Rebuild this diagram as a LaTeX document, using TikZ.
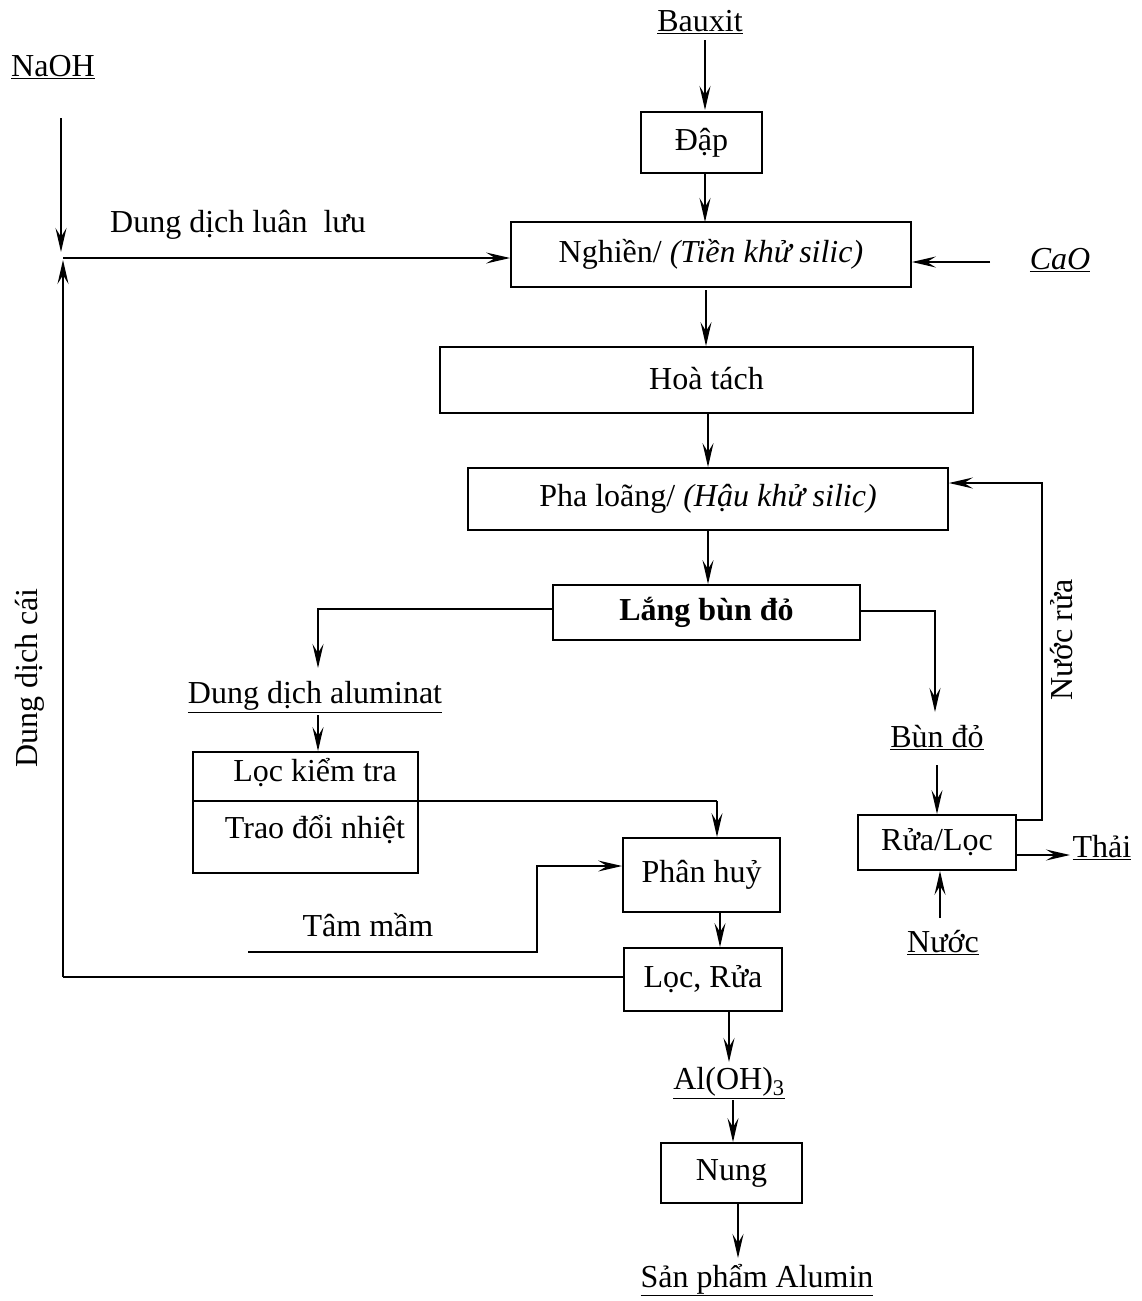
\documentclass[tikz,border=0pt]{standalone}
\usepackage{fontspec}
\setmainfont{Liberation Serif}
\usetikzlibrary{arrows.meta}
\begin{document}
\begin{tikzpicture}[x=1pt,y=-1pt,
  every node/.style={font=\fontsize{32}{38}\selectfont, inner sep=0pt},
  box/.style={draw, line width=1.8pt, minimum width=#1},
  ln/.style={line width=1.6pt},
  arr/.style={line width=1.6pt, -{Stealth[length=24pt,width=11pt,inset=9pt]}}]
\useasboundingbox (0,0) rectangle (1141,1301);
% boxes
\node[box=121pt, minimum height=61pt] (dap) at (701.5,142.5) {\raisebox{4pt}{Đập}};
\node[box=400pt, minimum height=65pt] (ngh) at (711,254.5) {Nghiền/ \textit{(Tiền khử silic)}};
\node[box=533pt, minimum height=66pt] (hoa) at (706.5,380) {\raisebox{3pt}{Hoà tách}};
\node[box=480pt, minimum height=62pt] (pha) at (708,499) {Pha loãng/ \textit{(Hậu khử silic)}};
\node[box=307pt, minimum height=55pt] (lang) at (706.5,612.5) {\textbf{Lắng bùn đỏ}};
\node[box=225pt, minimum height=121pt] (lockt) at (305.5,812.5) {};
\node (lockttxt) at (315,773) {Lọc kiểm tra};
\node (trao) at (315,830) {Trao đổi nhiệt};
\node[box=157pt, minimum height=74pt] (phan) at (701.5,875) {Phân huỷ};
\node[box=158pt, minimum height=63pt] (locrua) at (703,979.5) {Lọc, Rửa};
\node[box=141pt, minimum height=60pt] (nung) at (731.5,1173) {Nung};
\node[box=158pt, minimum height=55pt] (rualoc) at (937,842.5) {Rửa/Lọc};
% labels
\node (baux) at (700,22) {\underline{Bauxit}};
\node (naoh) at (53,67) {\underline{NaOH}};
\node (cao) at (1060,260) {\underline{\textit{CaO}}};
\node (luan) at (238,225) {Dung dịch luân\ \ lưu};
\node (alu) at (315,697) {\underline{Dung dịch aluminat}};
\node (bundo) at (937,738) {\underline{Bùn đỏ}};
\node (thai) at (1102,848) {\underline{Thải}};
\node (nuoc) at (943,943) {\underline{Nước}};
\node (aloh) at (729,1083) {\underline{Al(OH)\textsubscript{3}}};
\node (sp) at (757,1280) {\underline{Sản phẩm Alumin}};
\node (tam) at (368,925) {Tâm mầm};
\node[rotate=90] (cai) at (30,678) {Dung dịch cái};
\node[rotate=90] (nuocrua) at (1062,640) {Nước rửa};
% coordinates
\coordinate (naohtop) at (61,118);
\coordinate (junc) at (63,258);
\coordinate (corner) at (63,977);
\coordinate (tamstart) at (248,952);
\coordinate (tamstep) at (537,952);
\coordinate (lstep) at (318,609);
\coordinate (rstep) at (935,611);
\coordinate (nrstep) at (1042,820);
\coordinate (nrtop) at (1042,483);
\coordinate (tdstart) at (193,801);
\coordinate (tdstep) at (717,801);
% arrows
\draw[arr] (705,40) -- (705,110);
\draw[arr] (dap.south -| 705,0) -- (705,222);
\draw[arr] (706,290) -- (hoa.north -| 706,0);
\draw[arr] (708,413) -- (pha.north -| 708,0);
\draw[arr] (pha.south -| 708,0) -- (lang.north -| 708,0);
\draw[arr] (lang.west |- lstep) -- (lstep) -- (318,668);
\draw[arr] (lang.east |- rstep) -- (rstep) -- (935,712);
\draw[arr] (937,765) -- (rualoc.north -| 937,0);
\draw[arr] (rualoc.east |- 0,855) -- (1070,855);
\draw[arr] (940,918) -- (rualoc.south -| 940,0);
\draw[arr] (rualoc.east |- nrstep) -- (nrstep) -- (nrtop) -- (pha.east |- nrtop);
\draw[arr] (318,715) -- (lockt.north -| 318,0);
\draw[ln] (tdstart) -- (tdstep);
\draw[arr] (tdstep) -- (phan.north -| tdstep);
\draw[arr] (tamstart) -- (tamstep) -- (537,866) -- (phan.west |- 0,866);
\draw[arr] (phan.south -| 720,0) -- (locrua.north -| 720,0);
\draw[ln] (locrua.west |- corner) -- (corner);
\draw[arr] (corner) -- (63,260);
\draw[arr] (junc) -- (ngh.west |- junc);
\draw[arr] (naohtop) -- (61,252);
\draw[arr] (729,1011) -- (729,1062);
\draw[arr] (733,1100) -- (nung.north -| 733,0);
\draw[arr] (nung.south -| 738,0) -- (738,1258);
\draw[arr] (990,262) -- (ngh.east |- 0,262);
\end{tikzpicture}
\end{document}
